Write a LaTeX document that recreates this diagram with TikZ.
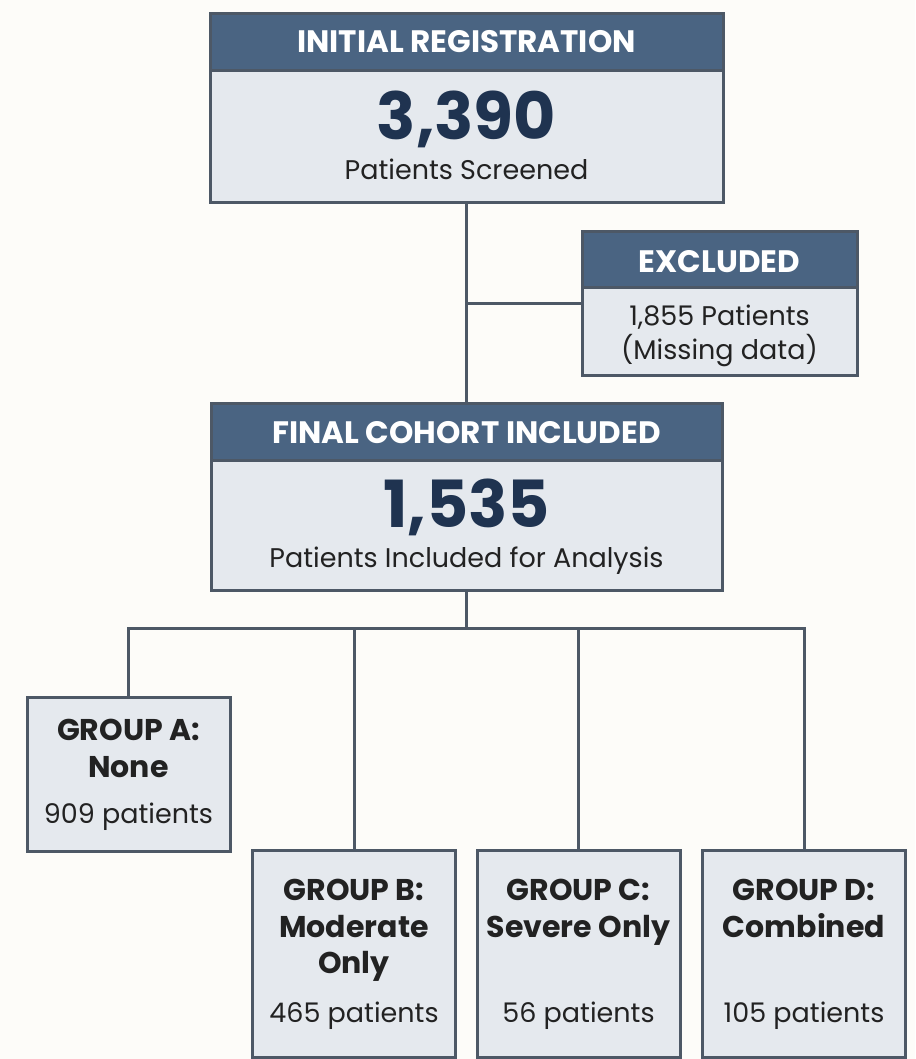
\documentclass[tikz,border=0pt]{standalone}
\usepackage{fontspec}
\setmainfont{Poppins}
\usetikzlibrary{positioning,calc}
\definecolor{slatehead}{HTML}{4A6482}
\definecolor{boxfill}{HTML}{E5E9EE}
\definecolor{linegray}{HTML}{4D5866}
\definecolor{navy}{HTML}{1F3350}
\definecolor{ink}{HTML}{222222}
\definecolor{paper}{HTML}{FDFCF9}

\begin{document}
\begin{tikzpicture}[x=1pt,y=-1pt,
  box/.style={draw=linegray,line width=3pt,fill=boxfill,inner sep=0pt},
  band/.style={draw=linegray,line width=3pt,fill=slatehead,inner sep=0pt},
  headtxt/.style={anchor=base,text=white,font=\fontsize{31}{34}\selectfont\bfseries},
  bignum/.style={anchor=base,text=navy,font=\fontsize{65}{70}\selectfont\bfseries},
  subtxt/.style={anchor=base,text=ink,font=\fontsize{27}{30}\selectfont},
  grptxt/.style={anchor=base,text=ink,font=\fontsize{30}{32}\selectfont\bfseries},
  link/.style={draw=linegray,line width=3pt}]
  \path[use as bounding box,fill=paper] (0,0) rectangle (915,1059);
  % screening and exclusion
  \node[box,minimum width=513pt,minimum height=189pt] (reg) at (466.5,108.5) {};
  \node[band,minimum width=513pt,minimum height=57pt,anchor=north] (regHead) at (reg.north) {};
  \node[headtxt] (regTitle) at (466.5,53) {INITIAL REGISTRATION};
  \node[bignum] (regNum) at (466.5,140) {3,390};
  \node[subtxt] (regSub) at (466.5,180) {Patients Screened};
  \node[box,minimum width=275pt,minimum height=143pt] (excl) at (719.5,303.5) {};
  \node[band,minimum width=275pt,minimum height=55pt,anchor=north] (exclHead) at (excl.north) {};
  \node[headtxt] (exclTitle) at (719.5,272) {EXCLUDED};
  \node[subtxt] (exclNum) at (719.5,325) {1,855 Patients};
  \node[subtxt] (exclWhy) at (719.5,359) {(Missing data)};
  % final cohort
  \node[box,minimum width=511pt,minimum height=187pt] (fin) at (466.5,496.5) {};
  \node[band,minimum width=511pt,minimum height=57pt,anchor=north] (finHead) at (fin.north) {};
  \node[headtxt] (finTitle) at (466.5,443) {FINAL COHORT INCLUDED};
  \node[bignum] (finNum) at (466.5,527) {1,535};
  \node[subtxt] (finSub) at (466.5,567) {Patients Included for Analysis};
  % groups
  \node[box,minimum width=203pt,minimum height=154pt] (grpA) at (128.5,774) {};
  \node[grptxt] (grpA-t1) at (128.5,740) {GROUP A:};
  \node[grptxt] (grpA-t2) at (128.5,777) {None};
  \node[subtxt] (grpA-n) at (128.5,823) {909 patients};
  \foreach \g/\x/\ta/\tb/\tc/\n in {B/354/GROUP B:/Moderate/Only/465,
      C/578.5/GROUP C:/Severe Only//56, D/804/GROUP D:/Combined//105}{
    \node[box,minimum width=203pt,minimum height=207pt] (grp\g) at (\x,953.5) {};
    \node[grptxt] (grp\g-t1) at (\x,900) {\ta};
    \node[grptxt] (grp\g-t2) at (\x,937) {\tb};
    \node[grptxt] (grp\g-t3) at (\x,973) {\tc};
    \node[subtxt] (grp\g-n) at (\x,1022) {\n\ patients};}
  % connectors
  \draw[link] (reg.south) -- (fin.north);
  \draw[link] (reg.south |- excl.west) -- (excl.west);
  \coordinate (split) at ($(fin.south)+(0,37)$);
  \draw[link] (fin.south) -- (split);
  \draw[link,line cap=rect] (grpA.north) |- (split) -| (grpD.north);
  \foreach \g in {grpB,grpC}
    \draw[link] (\g.north) -- (\g.north |- split);
\end{tikzpicture}
\end{document}
